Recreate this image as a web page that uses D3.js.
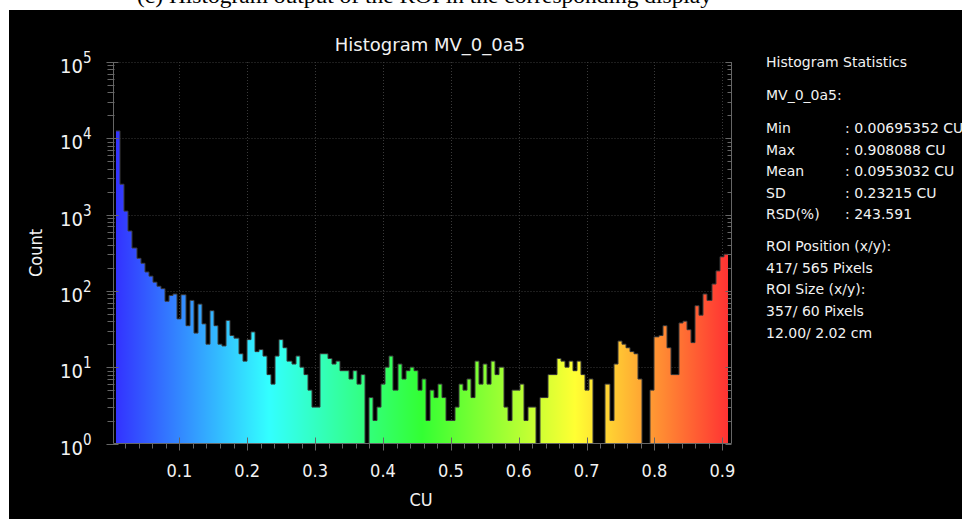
<!DOCTYPE html>
<html><head><meta charset="utf-8">
<script src="https://cdn.jsdelivr.net/npm/d3@7"></script>
<style>
html,body{margin:0;padding:0;background:#fff;}
svg{display:block;}
text{font-family:'DejaVu Sans Condensed','DejaVu Sans',sans-serif;font-stretch:condensed;fill:#f2f2f2;}
text.wide{font-family:'DejaVu Sans',sans-serif;font-stretch:normal;}
</style></head>
<body>
<svg id="c" width="962" height="519"></svg>
<script>
// ---- data ----
const title = "Histogram MV_0_0a5";
const xLabel = "CU";
const yLabel = "Count";
const binMin = 0.00695352;
const binMax = 0.908088;
const counts = [
  12500, 2500, 1110, 610, 365, 267, 230, 177, 156, 130,
  115, 107, 73, 87, 91, 43, 89, 35, 75, 28,
  67, 37, 20, 55, 35, 20, 19, 41, 26, 24,
  15, 12, 23, 29, 16, 17, 14, 8, 6, 14,
  23, 18, 12, 11, 14, 10, 8, 5, 3, 3,
  15, 15, 13, 11, 12, 9, 9, 7, 9, 6,
  8, 0, 4, 2, 3, 6, 10, 14, 5, 11,
  7, 9, 10, 9, 5, 7, 2, 5, 4, 6,
  4, 2, 2, 3, 6, 5, 7, 4, 12, 6,
  11, 6, 12, 8, 10, 3, 2, 5, 5, 6,
  2, 3, 3, 0, 4, 4, 8, 8, 13, 12,
  10, 12, 9, 12, 8, 5, 7, 0, 0, 0,
  6, 2, 11, 22, 20, 18, 16, 15, 7, 0,
  0, 5, 25, 26, 35, 18, 8, 8, 38, 40,
  31, 21, 64, 48, 91, 75, 123, 183, 280, 302
];
const xTicks = [0.1, 0.2, 0.3, 0.4, 0.5, 0.6, 0.7, 0.8, 0.9];
const yExponents = [0, 1, 2, 3, 4, 5];
const statsHeader = ["Histogram Statistics", "MV_0_0a5:"];
const statsNames = ["Min", "Max", "Mean", "SD", "RSD(%)"];
const statsValues = [": 0.00695352 CU", ": 0.908088 CU", ": 0.0953032 CU", ": 0.23215 CU", ": 243.591"];
const roiLines = ["ROI Position (x/y):", "417/ 565 Pixels", "ROI Size (x/y):", "357/ 60 Pixels", "12.00/ 2.02 cm"];
const caption = "(c) Histogram output of the ROI in the corresponding display";

// ---- drawing ----
const svg = d3.select("#c");
const W = 962, H = 519;
svg.append("rect").attr("x", 0).attr("y", 0).attr("width", W).attr("height", H).attr("fill", "#fff");
svg.append("text").text(caption).attr("x", 137).attr("y", 2.5)
  .attr("textLength", 575).attr("lengthAdjust", "spacingAndGlyphs")
  .style("font-family", "'Liberation Serif','DejaVu Serif',serif").style("font-size", "21px").style("fill", "#000");
svg.append("rect").attr("x", 9).attr("y", 10).attr("width", W - 9).attr("height", H - 10).attr("fill", "#000");

const x = d3.scaleLinear().domain([0.003, 0.9135]).range([113.5, 731.5]);
const y = d3.scaleLog().domain([1, 1e5]).range([443.5, 62]);
const binW = (binMax - binMin) / counts.length;
const bins = counts.map((c, i) => ({x0: binMin + i * binW, x1: binMin + (i + 1) * binW, c}));

// gradient
const defs = svg.append("defs");
const grad = defs.append("linearGradient").attr("id", "hue")
  .attr("gradientUnits", "userSpaceOnUse")
  .attr("x1", x(binMin)).attr("x2", x(binMax)).attr("y1", 0).attr("y2", 0);
d3.range(0, 13).forEach(k => {
  const t = k / 12;
  grad.append("stop").attr("offset", t).attr("stop-color", d3.hsl(240 * (1 - t), 1, 0.6).formatHex());
});

// grid
const grid = svg.append("g").attr("stroke", "#3a3a3a").attr("stroke-dasharray", "1,2").attr("stroke-width", 1);
yExponents.filter(e => e > 0).forEach(e => {
  grid.append("line").attr("x1", x.range()[0]).attr("x2", x.range()[1])
    .attr("y1", Math.round(y(Math.pow(10, e))) + 0.5).attr("y2", Math.round(y(Math.pow(10, e))) + 0.5);
});
xTicks.forEach(v => {
  grid.append("line").attr("x1", Math.round(x(v)) + 0.5).attr("x2", Math.round(x(v)) + 0.5)
    .attr("y1", y.range()[1]).attr("y2", y.range()[0]);
});

// bars
svg.append("g").attr("shape-rendering", "crispEdges")
  .selectAll("rect").data(bins.filter(b => b.c > 1)).join("rect")
  .attr("x", d => Math.round(x(d.x0))).attr("width", d => Math.round(x(d.x1)) - Math.round(x(d.x0)))
  .attr("y", d => y(d.c)).attr("height", d => y(1) - y(d.c))
  .attr("fill", "url(#hue)");

// outline
const pts = bins.map(b => [Math.round(x(b.x0)), y(Math.max(1, b.c))]);
pts.push([Math.round(x(binMax)), y(Math.max(1, counts[counts.length - 1]))]);
svg.append("path").attr("d", d3.line().curve(d3.curveStepAfter)(pts))
  .attr("fill", "none").attr("stroke", "#3a3a3a").attr("stroke-width", 1);

// axes
const axisColor = "#666";
const ax = svg.append("g").attr("stroke", axisColor).attr("stroke-width", 1).attr("fill", "none");
const xl = x.range()[0], xr = x.range()[1], yb = y.range()[0], yt = y.range()[1];
ax.append("line").attr("x1", xl).attr("x2", xl).attr("y1", yt).attr("y2", yb);
ax.append("line").attr("x1", xr).attr("x2", xr).attr("y1", yt).attr("y2", yb);
ax.append("line").attr("x1", xl).attr("x2", xr).attr("y1", yb).attr("y2", yb);
// y ticks
const yMinor = [];
for (let e = 0; e < 5; e++) for (let m = 2; m <= 9; m++) yMinor.push(m * Math.pow(10, e));
yMinor.forEach(v => {
  const yy = Math.round(y(v)) + 0.5;
  ax.append("line").attr("x1", xl - 6).attr("x2", xl + 1).attr("y1", yy).attr("y2", yy);
  ax.append("line").attr("x1", xr - 4).attr("x2", xr).attr("y1", yy).attr("y2", yy);
});
yExponents.forEach(e => {
  const yy = Math.round(y(Math.pow(10, e))) + 0.5;
  ax.append("line").attr("x1", xl - 7).attr("x2", xl + 5).attr("y1", yy).attr("y2", yy);
  ax.append("line").attr("x1", xr - 6).attr("x2", xr).attr("y1", yy).attr("y2", yy);
});
// x ticks
d3.range(1, 46).map(k => k * 0.02).filter(v => v > 0.003 && v < 0.9135).forEach(v => {
  const xx = Math.round(x(v)) + 0.5;
  ax.append("line").attr("x1", xx).attr("x2", xx).attr("y1", yb).attr("y2", yb + 5);
});
xTicks.forEach(v => {
  const xx = Math.round(x(v)) + 0.5;
  ax.append("line").attr("x1", xx).attr("x2", xx).attr("y1", yb - 6).attr("y2", yb + 7);
});

// tick labels
svg.append("g").selectAll("text").data(xTicks).join("text")
  .attr("x", d => x(d)).attr("y", yb + 33).attr("text-anchor", "middle")
  .style("font-size", "18px").text(d => d3.format(".1f")(d));
const yl = svg.append("g");
yExponents.forEach(e => {
  const t = yl.append("text").attr("x", 60).attr("y", y(Math.pow(10, e)) + 11).style("font-size", "20px");
  t.append("tspan").text("10");
  t.append("tspan").attr("dy", -10).style("font-size", "15px").text(e);
});

// titles
svg.append("text").attr("class", "wide").attr("x", 430).attr("y", 51).attr("text-anchor", "middle").style("font-size", "18px").text(title);
svg.append("text").attr("x", 421).attr("y", 506).attr("text-anchor", "middle").style("font-size", "18px").text(xLabel);
svg.append("text").attr("transform", "translate(42,253) rotate(-90)").attr("text-anchor", "middle")
  .style("font-size", "18px").text(yLabel);

// stats panel
const st = svg.append("g").style("font-size", "14px");
st.append("text").attr("class", "wide").attr("x", 766).attr("y", 67).text(statsHeader[0]);
st.append("text").attr("class", "wide").attr("x", 766).attr("y", 100).text(statsHeader[1]);
statsNames.forEach((n, i) => {
  st.append("text").attr("class", "wide").attr("x", 766).attr("y", 133 + i * 21.5).text(n);
  st.append("text").attr("class", "wide").attr("x", 845).attr("y", 133 + i * 21.5).text(statsValues[i]);
});
roiLines.forEach((l, i) => {
  st.append("text").attr("class", "wide").attr("x", 766).attr("y", 251 + i * 21.7).text(l);
});
</script>
</body></html>
